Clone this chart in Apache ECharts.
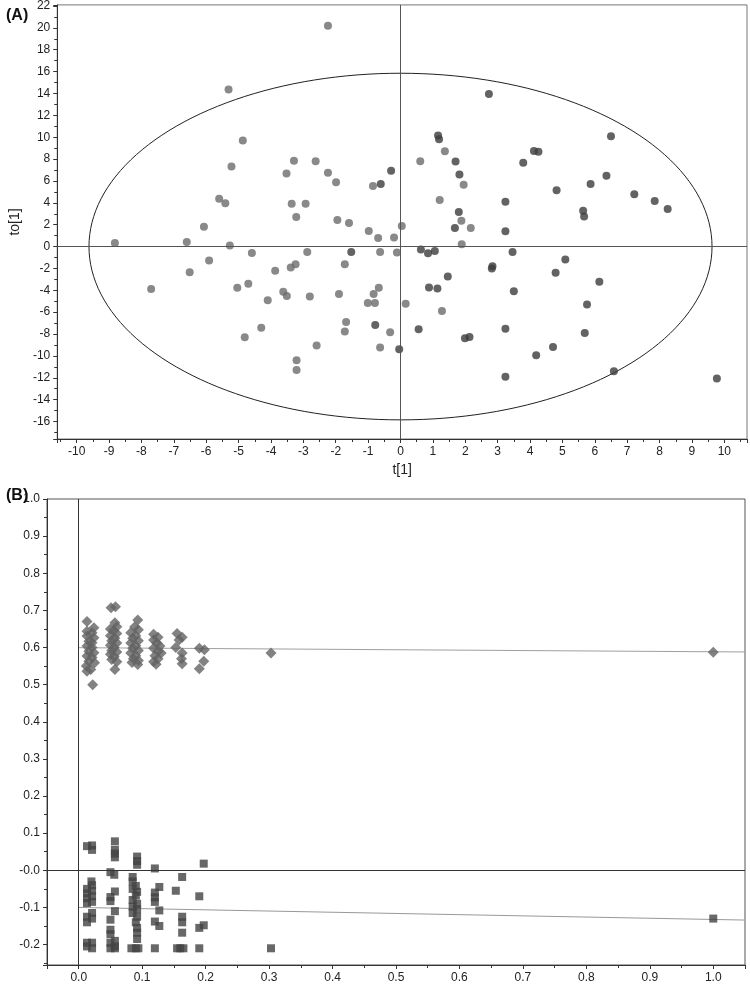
<!DOCTYPE html>
<html><head><meta charset="utf-8">
<script src="https://cdn.jsdelivr.net/npm/echarts@6/dist/echarts.min.js"></script>
<style>html,body{margin:0;padding:0;background:#fff}#c{width:750px;height:984px}</style>
</head><body><div id="c"></div>
<script>
// ---------- Panel A: score plot t[1] vs to[1] ----------
const lightScores = [
[-5.31,14.37],[-4.87,9.69],[-5.22,7.32],[-5.60,4.37],[-5.41,3.95],[-6.07,1.82],[-8.82,0.33],[-6.60,0.42],[-5.27,0.09],[-4.59,-0.58],[-5.91,-1.28],[-6.51,-2.34],[-7.70,-3.89],[-5.04,-3.77],[-4.70,-3.41],[-4.81,-8.30],
[-2.24,20.2],[0.61,7.81],[-0.85,5.53],[-3.29,7.84],[-2.62,7.81],[-3.52,6.68],[-2.24,6.74],[-1.99,5.89],[-3.36,3.92],[-2.93,3.92],[-3.22,2.70],[-1.95,2.42],[-1.59,2.15],[-0.98,1.42],[-0.69,0.78],[-0.20,0.82],[0.04,1.88],[1.21,4.25],[1.37,8.72],[1.95,5.65],[1.88,2.37],[2.17,1.70],[1.89,0.21],
[-2.88,-0.49],[-0.63,-0.49],[-0.11,-0.55],[-3.87,-2.22],[-3.39,-1.91],[-3.24,-1.61],[-1.72,-1.61],[-4.10,-4.90],[-3.62,-4.14],[-3.51,-4.53],[-2.80,-4.56],[-1.90,-4.35],[-0.67,-3.77],[-0.83,-4.35],[-1.01,-5.17],[-0.79,-5.17],[0.16,-5.23],[1.28,-5.90],[-4.30,-7.42],[-1.68,-6.90],[-1.72,-7.78],[-0.32,-7.84],[-2.59,-9.06],[-0.63,-9.24],[-3.21,-10.39],[-3.21,-11.28]
];
const darkScores = [
[2.73,13.95],[1.16,10.15],[1.19,9.81],[1.70,7.78],[1.82,6.59],[-0.29,6.93],[-0.61,5.71],[1.80,3.15],[1.68,1.70],[3.24,4.10],[3.24,1.39],
[6.50,10.08],[4.12,8.75],[4.26,8.66],[3.79,7.66],[6.36,6.47],[5.87,5.71],[4.82,5.16],[7.22,4.79],[7.85,4.16],[8.25,3.43],[5.64,3.28],[5.67,2.76],
[-1.52,-0.49],[0.63,-0.27],[0.85,-0.61],[1.06,-0.40],[0.88,-3.74],[1.14,-3.83],[1.46,-2.73],[2.84,-1.80],[2.82,-2.01],[-0.78,-7.17],[0.56,-7.57],[1.99,-8.39],[2.13,-8.27],[-0.04,-9.39],
[3.46,-0.49],[5.09,-1.19],[4.79,-2.40],[6.14,-3.22],[3.50,-4.08],[5.76,-5.29],[3.24,-7.51],[5.69,-7.90],[4.71,-9.18],[4.19,-9.94],[6.59,-11.40],[9.77,-12.07],[3.24,-11.91]
];
const ellipseRadiusT = 9.62;
const ellipseRadiusTo = 15.85;

// ---------- Panel B: permutation test ----------
const r2Points = [
[0.013,0.670],[0.024,0.653],[0.013,0.644],[0.021,0.640],[0.013,0.631],[0.024,0.626],[0.016,0.617],[0.021,0.613],[0.013,0.604],[0.021,0.600],[0.016,0.590],[0.024,0.586],[0.013,0.577],[0.021,0.573],[0.016,0.563],[0.025,0.559],[0.012,0.550],[0.019,0.541],[0.013,0.536],[0.022,0.500],
[0.051,0.707],[0.058,0.710],[0.057,0.667],[0.060,0.656],[0.050,0.650],[0.055,0.645],[0.060,0.638],[0.050,0.632],[0.057,0.625],[0.052,0.618],[0.060,0.612],[0.050,0.606],[0.056,0.600],[0.052,0.592],[0.060,0.588],[0.050,0.582],[0.056,0.575],[0.052,0.568],[0.060,0.562],[0.057,0.541],
[0.093,0.674],[0.088,0.655],[0.094,0.648],[0.082,0.640],[0.090,0.632],[0.085,0.625],[0.094,0.618],[0.082,0.612],[0.090,0.605],[0.085,0.598],[0.094,0.592],[0.082,0.585],[0.090,0.578],[0.086,0.570],[0.094,0.565],[0.084,0.560],[0.093,0.554],
[0.118,0.636],[0.125,0.628],[0.118,0.620],[0.123,0.612],[0.128,0.604],[0.118,0.598],[0.125,0.590],[0.130,0.585],[0.120,0.578],[0.125,0.570],[0.118,0.562],[0.122,0.555],
[0.155,0.638],[0.163,0.628],[0.158,0.620],[0.153,0.600],[0.163,0.585],[0.162,0.570],[0.163,0.556],
[0.190,0.598],[0.198,0.594],[0.197,0.563],[0.190,0.543],
[0.303,0.585],[1.0,0.587]
];
const q2Points = [
[0.013,0.065],[0.021,0.067],[0.021,0.055],[0.020,-0.030],[0.021,-0.040],[0.013,-0.050],[0.021,-0.055],[0.013,-0.062],[0.021,-0.070],[0.013,-0.075],[0.021,-0.085],[0.013,-0.088],[0.021,-0.115],[0.013,-0.125],[0.021,-0.130],[0.013,-0.140],[0.013,-0.195],[0.021,-0.195],[0.013,-0.205],[0.021,-0.210],
[0.057,0.078],[0.057,0.055],[0.057,0.045],[0.057,0.035],[0.050,-0.005],[0.056,-0.012],[0.057,-0.057],[0.050,-0.072],[0.050,-0.083],[0.057,-0.110],[0.050,-0.133],[0.050,-0.160],[0.050,-0.172],[0.050,-0.195],[0.057,-0.190],[0.050,-0.210],[0.057,-0.205],[0.057,-0.210],
[0.092,0.037],[0.092,0.025],[0.092,0.015],[0.085,-0.018],[0.085,-0.030],[0.090,-0.042],[0.085,-0.050],[0.092,-0.058],[0.090,-0.068],[0.085,-0.080],[0.092,-0.090],[0.085,-0.098],[0.092,-0.105],[0.085,-0.115],[0.092,-0.125],[0.090,-0.140],[0.092,-0.155],[0.092,-0.168],[0.092,-0.185],[0.083,-0.210],[0.090,-0.210],[0.094,-0.210],
[0.120,0.005],[0.127,-0.045],[0.120,-0.060],[0.120,-0.073],[0.120,-0.085],[0.127,-0.108],[0.120,-0.138],[0.127,-0.150],[0.120,-0.210],
[0.163,-0.018],[0.153,-0.055],[0.163,-0.125],[0.163,-0.140],[0.163,-0.168],[0.155,-0.210],[0.160,-0.210],[0.165,-0.210],
[0.197,0.018],[0.190,-0.070],[0.197,-0.148],[0.190,-0.155],[0.190,-0.210],
[0.303,-0.210],[1.0,-0.130]
];
const r2Fit = [[0,0.5995],[1.05,0.588]];
const q2Fit = [[0,-0.100],[1.05,-0.134]];

// ellipse outline (geometry from its two radii)
const ellipsePts = [];
for (let i = 0; i <= 360; i += 2) {
  const a = i * Math.PI / 180;
  ellipsePts.push([ellipseRadiusT * Math.cos(a), ellipseRadiusTo * Math.sin(a)]);
}

const FONT = 'Liberation Sans, Arial, sans-serif';
const near = (v, step) => Math.abs(v / step - Math.round(v / step)) < 1e-6;

function axisBase() {
  return {
    type: 'value',
    axisLine: { show: true, onZero: false, lineStyle: { color: '#333', width: 1 } },
    axisTick: { show: true, inside: false, length: 4, lineStyle: { color: '#333' } },
    minorTick: { show: true, splitNumber: 2, length: 3, lineStyle: { color: '#333' } },
    splitLine: { show: false },
    minorSplitLine: { show: false },
    axisLabel: { fontSize: 12, color: '#222', fontFamily: FONT, margin: 7 },
    nameTextStyle: { fontSize: 14, color: '#222', fontFamily: FONT }
  };
}

const xA = Object.assign(axisBase(), {
  gridIndex: 0, min: -10.6, max: 10.7, splitNumber: 21,
  name: 't[1]', nameLocation: 'middle', nameGap: 24
});
xA.axisLabel.formatter = v => near(v, 1) ? String(Math.round(v)) : '';
const yA = Object.assign(axisBase(), {
  gridIndex: 0, min: -17.6, max: 22.1, splitNumber: 20,
  name: 'to[1]', nameLocation: 'middle', nameGap: 24
});
yA.axisLabel.formatter = v => near(v, 2) ? String(Math.round(v)) : '';

const xB = Object.assign(axisBase(), { gridIndex: 1, min: -0.05, max: 1.05, splitNumber: 11 });
xB.axisLabel.formatter = v => (near(v, 0.1) && v > -0.001 && v < 1.001) ? (Math.round(v * 10) / 10).toFixed(1) : '';
const yB = Object.assign(axisBase(), { gridIndex: 1, min: -0.255, max: 1.0, splitNumber: 12 });
yB.axisLabel.formatter = v => {
  if (!near(v, 0.1)) return '';
  const r = Math.round(v * 10) / 10;
  return r === 0 ? '-0.0' : r.toFixed(1);
};

const refLine = (color) => ({
  silent: true, symbol: ['none', 'none'], label: { show: false },
  lineStyle: { color: color, width: 1, type: 'solid' }, animation: false,
  data: [{ xAxis: 0 }, { yAxis: 0 }]
});

const option = {
  animation: false,
  backgroundColor: '#fff',
  title: [
    { text: '(A)', left: 1, top: 3, textStyle: { fontSize: 16, fontWeight: 'bold', color: '#111', fontFamily: FONT } },
    { text: '(B)', left: 1, top: 483, textStyle: { fontSize: 16, fontWeight: 'bold', color: '#111', fontFamily: FONT } }
  ],
  grid: [
    { left: 46, top: 4, width: 703, height: 435, show: true, borderColor: '#777', borderWidth: 1 },
    { left: 47, top: 499, width: 698, height: 466, show: true, borderColor: '#555', borderWidth: 1 }
  ],
  xAxis: [xA, xB],
  yAxis: [yA, yB],
  series: [
    { type: 'line', xAxisIndex: 0, yAxisIndex: 0, data: ellipsePts, showSymbol: false, symbol: 'none',
      lineStyle: { color: '#222', width: 1 }, silent: true, z: 1, markLine: refLine('#555') },
    { type: 'scatter', xAxisIndex: 0, yAxisIndex: 0, data: lightScores, symbol: 'circle', symbolSize: 8,
      itemStyle: { color: '#6b6b6b' }, z: 3 },
    { type: 'scatter', xAxisIndex: 0, yAxisIndex: 0, data: darkScores, symbol: 'circle', symbolSize: 8,
      itemStyle: { color: '#3c3c3c' }, z: 3 },
    { type: 'line', xAxisIndex: 1, yAxisIndex: 1, data: r2Fit, showSymbol: false, symbol: 'none',
      lineStyle: { color: '#a0a0a0', width: 1 }, silent: true, z: 1, markLine: refLine('#333') },
    { type: 'line', xAxisIndex: 1, yAxisIndex: 1, data: q2Fit, showSymbol: false, symbol: 'none',
      lineStyle: { color: '#999', width: 1 }, silent: true, z: 1 },
    { type: 'scatter', xAxisIndex: 1, yAxisIndex: 1, data: r2Points, symbol: 'diamond', symbolSize: 11,
      itemStyle: { color: '#636363' }, z: 3 },
    { type: 'scatter', xAxisIndex: 1, yAxisIndex: 1, data: q2Points, symbol: 'rect', symbolSize: 8,
      itemStyle: { color: '#424242' }, z: 3 }
  ]
};
const chart = echarts.init(document.getElementById('c'), null, { renderer: 'canvas' });
chart.setOption(option);
</script></body></html>
